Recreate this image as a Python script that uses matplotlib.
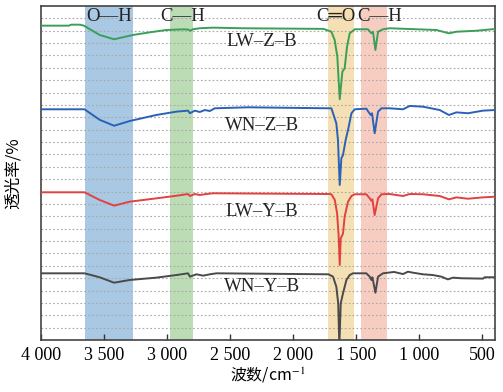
import numpy as np
import matplotlib.pyplot as plt

plt.rcParams['font.family'] = ['Liberation Serif', 'Noto Sans CJK SC', 'DejaVu Sans']
plt.rcParams['mathtext.fontset'] = 'stix'

# ---- data (wavenumber cm-1, offset transmittance) ----
wn_lwzb = [4000, 3780, 3760, 3690, 3660, 3535, 3420, 3270, 3138, 3006, 2874, 2835, 2815, 2795,
           2741, 2636, 2400, 1760, 1697, 1671, 1650, 1631, 1610, 1592, 1573, 1552, 1511, 1407,
           1380, 1367, 1348, 1327, 1288, 1235, 1023, 865, 764, 706, 547, 400]
t_lwzb = [25.41, 25.41, 25.49, 25.49, 25.41, 24.66, 24.31, 24.66, 24.87, 25.06, 25.11, 25.10, 25.00, 25.12,
          25.20, 25.25, 25.20, 25.15, 24.92, 24.25, 22.90, 19.46, 21.69, 21.96, 23.71, 24.79, 25.12, 25.12,
          24.79, 24.92, 23.44, 24.92, 25.12, 25.20, 25.12, 25.06, 24.79, 24.92, 25.00, 25.14]

wn_wnzb = [4000, 3655, 3535, 3420, 3297, 3085, 2926, 2834, 2819, 2780, 2741, 2701, 2661, 2622,
           2358, 1720, 1697, 1658, 1645, 1631, 1618, 1605, 1584, 1565, 1538, 1512, 1420, 1386,
           1375, 1354, 1327, 1300, 1235, 1129, 1076, 971, 838, 765, 706, 614, 495, 402]
t_wnzb = [18.65, 18.65, 17.80, 17.32, 17.70, 18.19, 18.46, 18.54, 18.33, 18.54, 18.43, 18.59, 18.51, 18.73,
          18.81, 18.73, 18.73, 17.52, 16.17, 12.53, 14.69, 14.95, 16.17, 16.98, 18.33, 18.65, 18.70, 18.19,
          18.33, 16.71, 18.46, 18.73, 18.73, 18.65, 18.92, 18.86, 18.59, 18.19, 18.40, 18.33, 18.54, 18.59]

wn_lwyb = [4000, 3655, 3535, 3420, 3297, 3085, 2926, 2834, 2819, 2780, 2741, 2690, 2636, 1720,
           1697, 1670, 1652, 1640, 1631, 1623, 1605, 1592, 1565, 1538, 1512, 1420, 1393, 1380,
           1372, 1354, 1327, 1300, 1235, 1129, 1076, 971, 838, 765, 706, 614, 495, 402]
t_lwyb = [11.94, 11.94, 11.32, 10.86, 11.18, 11.45, 11.66, 11.80, 11.64, 11.80, 11.72, 11.80, 11.86, 11.80,
          11.78, 11.32, 10.24, 8.50, 6.06, 8.22, 8.60, 9.97, 11.18, 11.64, 11.78, 11.78, 11.45, 11.26,
          11.37, 10.10, 11.45, 11.78, 11.80, 11.64, 11.80, 11.78, 11.64, 11.37, 11.53, 11.42, 11.53, 11.58]

wn_wnyb = [4000, 3655, 3535, 3420, 3297, 3085, 2926, 2834, 2819, 2767, 2714, 2661, 2609, 1720,
           1684, 1658, 1643, 1634, 1623, 1605, 1578, 1552, 1526, 1420, 1393, 1380, 1372, 1348,
           1327, 1288, 1200, 1129, 1090, 1050, 971, 892, 825, 773, 733, 666, 495, 482, 402]
t_wnyb = [5.39, 5.39, 5.07, 4.63, 4.85, 5.04, 5.25, 5.39, 5.12, 5.31, 5.20, 5.31, 5.39, 5.31,
          5.12, 4.31, 2.96, -0.5, 2.96, 3.77, 4.85, 5.25, 5.39, 5.39, 5.12, 4.85, 5.07, 3.82,
          5.12, 5.39, 5.50, 5.33, 5.52, 5.44, 5.31, 5.25, 5.12, 4.90, 5.04, 4.99, 4.96, 5.07, 5.07]

series_names = ['LW–Z–B', 'WN–Z–B', 'LW–Y–B', 'WN–Y–B']
series_colors = ['#3b9f57', '#2a62b5', '#e2413f', '#4a4a4a']
label_y = [24.1, 17.3, 10.37, 4.36]

band_names = ['O—H', 'C—H', 'C═O', 'C—H']
band_ranges = [(3650, 3270), (2980, 2795), (1726, 1520), (1465, 1258)]
band_colors = ['#a8c8e3', '#bcdcb5', '#f4e0b4', '#f7cdc2']
band_label_x = [3460, 2880, 1665, 1315]

xticks = [4000, 3500, 3000, 2500, 2000, 1500, 1000, 500]
xticklabels = ['4 000', '3 500', '3 000', '2 500', '2 000', '1 500', '1 000', '500']

fig = plt.figure(figsize=(5.03, 3.92), dpi=100)
ax = fig.add_axes([0.0815, 0.1327, 0.9025, 0.852])

for (a, b), c in zip(band_ranges, band_colors):
    ax.axvspan(a, b, color=c, lw=0, zorder=0.5)

spectra = [(wn_lwzb, t_lwzb), (wn_wnzb, t_wnzb), (wn_lwyb, t_lwyb), (wn_wnyb, t_wnyb)]
for (w, t), c in zip(spectra, series_colors):
    ax.plot(w, t, color=c, lw=1.4, zorder=3)

for name, y in zip(series_names, label_y):
    ax.text(2250, y, name, ha='center', va='center', fontsize=13.5, color='#222222', zorder=4)

for name, x in zip(band_names, band_label_x):
    ax.text(x, 26.15, name, ha='center', va='center', fontsize=13.5, color='#222222', zorder=4)

ax.set_xlim(4000, 400)
ax.set_ylim(0, 27)
ax.set_yticks(np.arange(1, 27))
ax.yaxis.grid(True, linestyle=(0, (1.5, 2)), lw=0.8, color='#a8a8a8')
ax.tick_params(axis='y', length=0, labelleft=False)
ax.set_xticks(xticks)
ax.set_xticklabels(xticklabels, fontsize=13)
ax.tick_params(axis='x', direction='in', length=4, width=1, color='#333333', pad=5)
for s in ax.spines.values():
    s.set_color('#444444')
    s.set_linewidth(1.2)

ax.set_xlabel('波数/cm$^{-1}$', fontsize=11.5, family=['Noto Sans CJK SC', 'DejaVu Sans'], labelpad=1)
ax.set_ylabel('透光率/%', fontsize=12, family=['Noto Sans CJK SC', 'DejaVu Sans'], labelpad=14)

fig.savefig('out.png', dpi=100)
